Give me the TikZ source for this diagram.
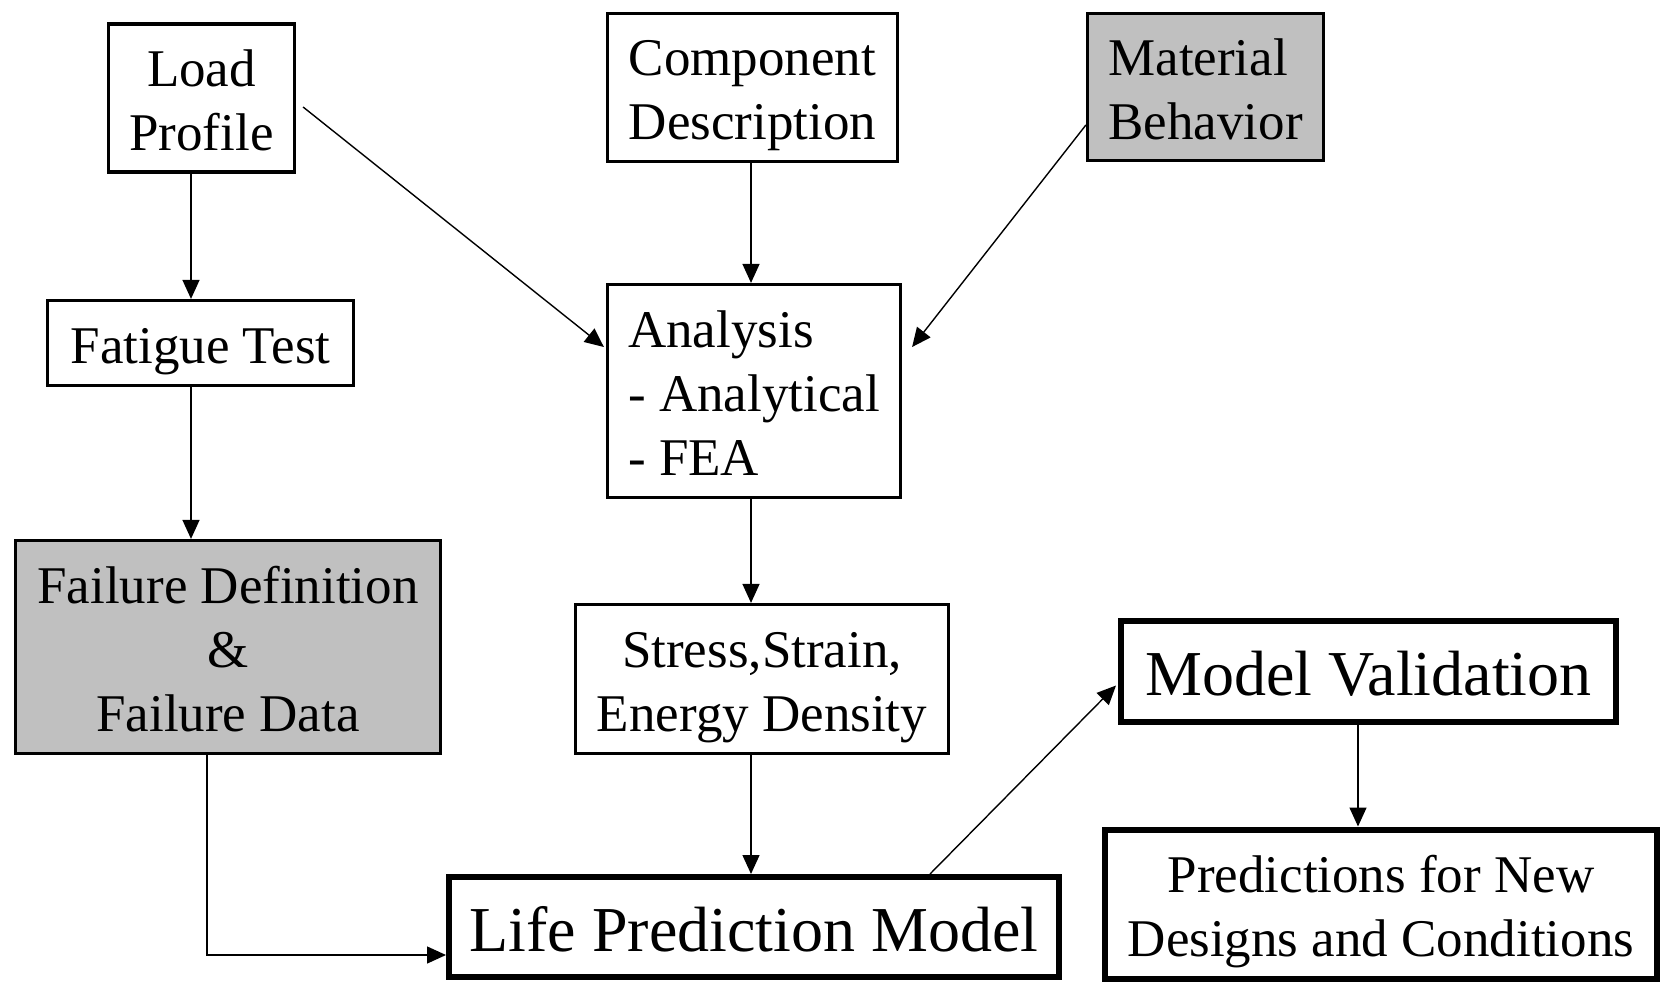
\documentclass[tikz,border=0pt]{standalone}
\usepackage{fontspec}
\setmainfont{Liberation Serif}
\usetikzlibrary{arrows.meta,calc}
\definecolor{boxgray}{HTML}{C0C0C0}
\newcommand{\mystrut}{\rule[-12pt]{0pt}{64pt}}
\newcommand{\mybigstrut}{\rule[-14.5pt]{0pt}{77pt}}
\begin{document}
\begin{tikzpicture}[x=1pt,y=-1pt,
  box/.style={draw, line width=3.2pt, rectangle, inner sep=0pt, font=\fontsize{53}{64}\selectfont, align=center},
  greybox/.style={box, fill=boxgray},
  thickbox/.style={box, line width=6pt, font=\fontsize{64}{77}\selectfont},
  conn/.style={line width=1.4pt, -{Triangle[length=19pt,width=17pt]}},
]
\useasboundingbox (0,0) rectangle (1664,982);

\node[box, minimum width=186pt, minimum height=148pt] (load) at (201.5,98) {\mystrut Load\\\mystrut Profile};
\node[box, minimum width=306pt, minimum height=85pt] (fatigue) at (200.5,343) {\mystrut Fatigue Test};
\node[box, align=left, minimum width=290pt, minimum height=148pt] (comp) at (752.5,87.5) {\mystrut Component\\\mystrut Description};
\node[greybox, align=left, minimum width=236pt, minimum height=147pt] (mat) at (1205.5,87) {\mystrut Material\\\mystrut Behavior};
\node[box, align=left, minimum width=293pt, minimum height=213pt] (analysis) at (754,391) {\mystrut Analysis\\\mystrut - Analytical\\\mystrut - FEA};
\node[greybox, minimum width=425pt, minimum height=213pt] (failure) at (228,647) {\mystrut Failure Definition\\\mystrut \&\\\mystrut Failure Data};
\node[box, minimum width=373pt, minimum height=149pt] (stress) at (762,679) {\mystrut Stress,Strain,\\\mystrut Energy Density};
\node[thickbox, minimum width=610pt, minimum height=100pt] (life) at (754,927) {\mybigstrut Life Prediction Model};
\node[thickbox, minimum width=495pt, minimum height=101pt] (val) at (1368.5,671.5) {\mybigstrut Model Validation};
\node[thickbox, font=\fontsize{53}{64}\selectfont, minimum width=552pt, minimum height=149pt] (pred) at (1381,904) {\mystrut Predictions for New\\\mystrut Designs and Conditions};

\coordinate (cA) at (191,0);
\coordinate (cB) at (751,0);
\coordinate (cC) at (930,0);
\coordinate (cD) at (1358,0);
\coordinate (cF) at (207,0);

\draw[conn] (load.south -| cA) -- (fatigue.north -| cA);
\draw[conn] (fatigue.south -| cA) -- (failure.north -| cA);
\draw[conn] (comp.south -| cB) -- (analysis.north -| cB);
\draw[conn] (analysis.south -| cB) -- (stress.north -| cB);
\draw[conn] (stress.south -| cB) -- (life.north -| cB);
\draw[conn] ([shift={(7,9)}]load.east) -- ([shift={(-2,-44)}]analysis.west);
\draw[conn] ([shift={(0,38)}]mat.west) -- ([shift={(10,-44)}]analysis.east);
\draw[conn] (failure.south -| cF) |- ([yshift=-28pt]life.west);
\draw[conn] (life.north -| cC) -- ([shift={(-2,14)}]val.west);
\draw[conn] (val.south -| cD) -- (pred.north -| cD);
\end{tikzpicture}
\end{document}
